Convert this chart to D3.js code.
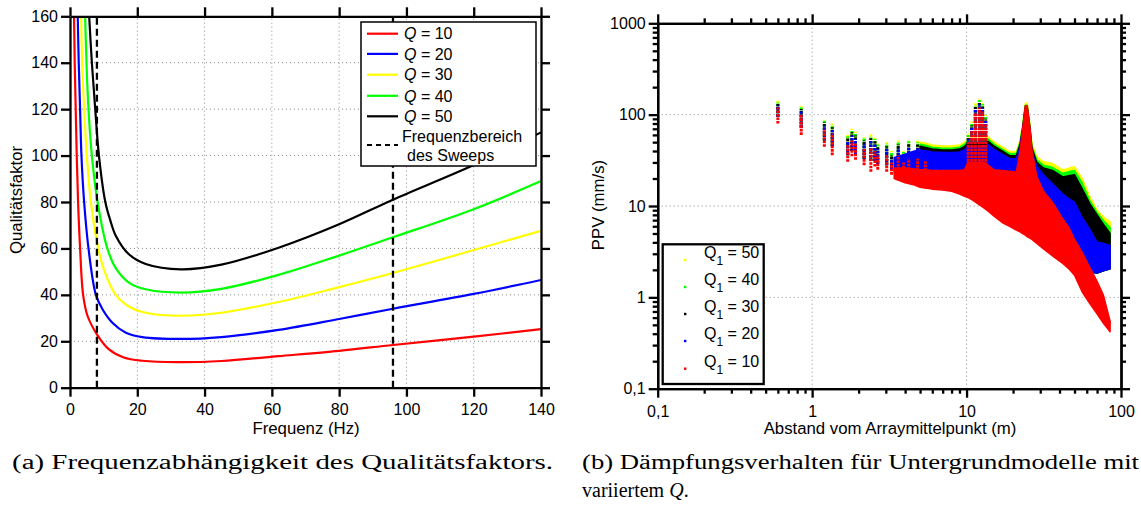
<!DOCTYPE html>
<html><head><meta charset="utf-8">
<script src="https://cdn.jsdelivr.net/npm/d3@7"></script>
<style>
body{margin:0;background:#fff;}
svg{display:block;font-family:"Liberation Sans",Arial,Helvetica,sans-serif;}
</style></head><body>
<svg id="fig" width="1141" height="505"></svg>
<script>
// ---------- Panel (a): quality factor vs. frequency ----------
const qLevels = [10, 20, 30, 40, 50];
const qColors = ["#ff0000", "#0000ff", "#ffff00", "#00ff00", "#000000"];
const freqTicks = [0, 20, 40, 60, 80, 100, 120, 140];
const qTicks = [0, 20, 40, 60, 80, 100, 120, 140, 160];
const sweepRange = [8, 96];

// [frequency (Hz), Q]
const curveQ10 = [[1.2,160],[1.4,140],[1.7,120],[2.0,100],[2.4,80],[3.0,60],[3.9,40],[5.2,31],[8,23],[11.6,16.5],[16,13],[21.5,11.6],[32,11],[45,11.5],[62,13.6],[80,15.9],[96,18.4],[120,22],[140,25.2]];
const curveQ20 = [[2.3,160],[2.6,140],[3.0,120],[3.4,100],[4.2,80],[5.5,60],[7.7,40],[9.7,33.7],[12.6,28],[16.6,23.7],[21.5,21.8],[33,21],[45,21.8],[62,24.9],[80,29.6],[96,34],[120,40.4],[140,46.4]];
const curveQ30 = [[3.3,160],[3.6,140],[4.2,120],[5.0,100],[6.2,80],[8.4,60],[10.1,50.8],[13.6,40],[17.5,35],[22.5,32.3],[33,31],[45,32.3],[62,36.9],[80,43.3],[96,49.4],[120,59.3],[140,67.6]];
const curveQ40 = [[4.5,160],[4.9,140],[5.5,120],[6.5,100],[8.2,80],[11.1,60],[13.6,51.5],[17.5,45.3],[22.5,42.4],[33,41],[45,42.6],[62,48.6],[80,56.9],[96,64.8],[120,76.9],[140,89]];
const curveQ50 = [[5.7,160],[6.5,140],[7.5,120],[8.6,100],[10.5,80],[12,72],[13.6,65.5],[17.5,57.5],[22.5,53.3],[33,51],[45,53],[62,60.3],[80,70.4],[96,81],[120,95.9],[140,110]];
const qCurves = [curveQ10, curveQ20, curveQ30, curveQ40, curveQ50];

// ---------- Panel (b): PPV vs. distance ----------
const q1Levels = [50, 40, 30, 20, 10];
const q1Colors = ["#ffff00", "#00ff00", "#000000", "#0000ff", "#ff0000"];
const distTickLabels = ["0,1", "1", "10", "100"];
const ppvTickLabels = ["0,1", "1", "10", "100", "1000"];

// receiver groups (m) with PPV ranges (mm/s) per model
const colDist  = [0.60,0.85,1.20,1.35,1.70,1.81,1.91,2.17,2.40,2.55,2.66,3.04,3.27,3.61,3.90,4.22,4.82,5.41,10.25,10.8,11.4,12.1,12.7,13.3];
const colHi50  = [142,125,89,80,60,70,65,57,61,56,49,50,40,52,41,53,52,47,63,84,133,151,138,99];
const colHi40  = [137,120,86,77,58,67,62,55,58,54,47,48,38,50,39,51,50,45,60,80,127,144,131,94];
const colHi30  = [131,115,82,73,55,64,59,52,55,51,45,45,36,47,37,48,47,43,57,76,121,137,125,90];
const colHi20  = [126,108,76,68,51,59,54,48,51,47,42,42,33,43,34,44,43,40,54,72,114,130,118,85];
const colHi10  = [120,100,70,62,47,52,48,42,44,40,36,36,30,36,30,33,33,31,50,66,105,120,108,78];
const colLoAll = [95,72,52,45,36,40,37,33,31,31,29,28,25,25,24,24,24,23,40,40,40,40,40,40];
const colLo10  = [80,60,44.5,36,30.5,35,32,28,23.7,27,25,23.7,22,19,20,17.5,17,15.6,28,28,28,28,28,28];

// dense part of the point cloud: envelopes (mm/s) over distance (m)
const denseDist = [3.4,4.0,4.6,5.0,5.5,6.0,7.0,8.0,9.0,9.7,10.2,11.0,12.0,13.0,13.8,15.0,17.0,19.0,21.0,22.2,23.1,24.0,24.7,25.7,26.5,28.5,31.5,36.0,42.0,46.0,50.0,56.0,63.0,70.0,77.0,85.0];
const denseHi50 = [null,null,null,50,48.5,46.5,45.5,45.3,46.5,50,55,55,55,55,57,50.5,44.5,39.4,39.4,52.7,80,133,133,80,48.5,34.6,30.5,29.2,24.8,25.9,26.9,20.1,12.6,9.0,7.6,6.7];
const denseHi40 = [null,null,null,47.5,46,44,43,43,44,47.5,52,52,52,52,54,48,42,37.5,37.5,50,76,127,127,76,45.5,32,28,26.5,22.8,23.8,24.5,18,11.4,8.5,6.9,5.8];
const denseHi30 = [null,null,null,45,43.5,42,41,41,42,45,49,49,49,49,51,45.5,40,35.5,35.5,47,72,121,121,72,43,30,26,24.5,20.8,21.5,22,15.5,10.5,8.0,6.3,5.0];
const denseHi20 = [34,37,40,41,40,39,38.5,38.5,39,41,45,45,45,45,47,42,37,33,33,44,68,114,114,68,39,27,22,17.5,13.5,12,11,7.5,5.5,4.0,3.9,3.7];
const denseLoAll = [24,23,22,21,21,20.5,20,19.5,19,18.5,18,17.5,17,16,15,14,13,12,11.5,11,11,11,11,11,11,10,9,7.5,5.5,4.6,3.8,2.6,1.9,1.85,1.95,2.05];
const denseHi10 = [26,26,25.5,25,25,24.5,24.5,24.5,24.5,25,30,30,30,30,28,25,24.5,24,23.5,40,70,125,125,72,41,21,14.5,11,7.2,5.8,4.3,3.1,2.1,1.5,1.05,0.55];
const denseLo10 = [20,18,17,16,15.6,15.3,15,14.5,13.5,12.8,12.4,11.5,10.4,9.5,8.8,7.8,6.6,6.0,5.45,5.2,5.0,4.8,4.6,4.45,4.3,3.9,3.4,2.85,2.35,2.05,1.75,1.15,0.85,0.66,0.52,0.42];

const colHi = [colHi50, colHi40, colHi30, colHi20, colHi10];
const colLo = [colLoAll, colLoAll, colLoAll, colLoAll, colLo10];
const denseHi = [denseHi50, denseHi40, denseHi30, denseHi20, denseHi10];
const denseLo = [denseLoAll, denseLoAll, denseLoAll, denseLoAll, denseLo10];

const svg = d3.select("#fig");
svg.append("rect").attr("width", 1141).attr("height", 505).attr("fill", "#fff");
const FS = 16;
const TITLE_FS = 16.8;
const gridStyle = s => s.attr("stroke", "#8c8c8c").attr("stroke-width", 1).attr("stroke-dasharray", "1,3");

function styleAxis(g, labels) {
  g.select(".domain").attr("stroke", "#000").attr("stroke-width", 2.3);
  g.selectAll(".tick line").attr("stroke", "#000").attr("stroke-width", 2.3);
  g.selectAll(".tick text").attr("font-size", FS).attr("fill", "#000")
    .attr("font-family", "'Liberation Sans', Arial, sans-serif");
  if (!labels) g.selectAll(".tick text").remove();
}

// ===== Panel (a) =====
const xA = d3.scaleLinear().domain([0, 140]).range([70, 541]);
const yA = d3.scaleLinear().domain([0, 160]).range([387.7, 16.3]);
const gA = svg.append("g");

gA.append("g").selectAll("line").data(freqTicks.filter(t => t > 0 && t < 140)).join("line")
  .attr("x1", d => xA(d)).attr("x2", d => xA(d)).attr("y1", yA(0)).attr("y2", yA(160)).call(gridStyle);
gA.append("g").selectAll("line").data(qTicks.filter(t => t > 0 && t < 160)).join("line")
  .attr("y1", d => yA(d)).attr("y2", d => yA(d)).attr("x1", xA(0)).attr("x2", xA(140)).call(gridStyle);

svg.append("clipPath").attr("id", "clipA").append("rect")
  .attr("x", xA(0)).attr("y", yA(160)).attr("width", xA(140) - xA(0)).attr("height", yA(0) - yA(160));

const lineA = d3.line().x(d => xA(d[0])).y(d => yA(d[1])).curve(d3.curveCatmullRom.alpha(0.5));
const plotA = gA.append("g").attr("clip-path", "url(#clipA)");
plotA.selectAll("path.q").data(qCurves).join("path").attr("class", "q")
  .attr("d", lineA).attr("fill", "none").attr("stroke", (d, i) => qColors[i]).attr("stroke-width", 2.2);
plotA.selectAll("line.sweep").data(sweepRange).join("line").attr("class", "sweep")
  .attr("x1", d => xA(d)).attr("x2", d => xA(d)).attr("y1", yA(0)).attr("y2", yA(160))
  .attr("stroke", "#000").attr("stroke-width", 2.3).attr("stroke-dasharray", "7,4");

gA.append("g").attr("transform", `translate(0,${yA(0)})`)
  .call(d3.axisBottom(xA).tickValues(freqTicks).tickSize(9).tickSizeOuter(0).tickPadding(7))
  .call(g => styleAxis(g, true));
gA.append("g").attr("transform", `translate(0,${yA(160)})`)
  .call(d3.axisTop(xA).tickValues(freqTicks).tickSize(9).tickSizeOuter(0))
  .call(g => styleAxis(g, false));
gA.append("g").attr("transform", `translate(${xA(0)},0)`)
  .call(d3.axisLeft(yA).tickValues(qTicks).tickSize(9).tickSizeOuter(0).tickPadding(3))
  .call(g => styleAxis(g, true));
gA.append("g").attr("transform", `translate(${xA(140)},0)`)
  .call(d3.axisRight(yA).tickValues(qTicks).tickSize(9).tickSizeOuter(0))
  .call(g => styleAxis(g, false));

gA.append("text").attr("x", 306).attr("y", 434).attr("text-anchor", "middle")
  .attr("font-size", TITLE_FS).text("Frequenz (Hz)");
gA.append("text").attr("transform", "translate(21.5,200) rotate(-90)").attr("text-anchor", "middle")
  .attr("font-size", TITLE_FS).text("Qualitätsfaktor");

// legend (a)
const legA = gA.append("g");
legA.append("rect").attr("x", 361).attr("y", 22).attr("width", 175).attr("height", 144)
  .attr("fill", "#fff").attr("stroke", "#000").attr("stroke-width", 1.5);
const legRowsA = [33.7, 53.9, 74.7, 95.8, 116.3];
qLevels.forEach((q, i) => {
  legA.append("line").attr("x1", 367).attr("x2", 398).attr("y1", legRowsA[i]).attr("y2", legRowsA[i])
    .attr("stroke", qColors[i]).attr("stroke-width", 2.2);
  const t = legA.append("text").attr("x", 404).attr("y", legRowsA[i]).attr("dy", "0.36em").attr("font-size", FS);
  t.append("tspan").attr("font-style", "italic").text("Q");
  t.append("tspan").text(" = " + q);
});
legA.append("line").attr("x1", 367).attr("x2", 398).attr("y1", 145).attr("y2", 145)
  .attr("stroke", "#000").attr("stroke-width", 2.2).attr("stroke-dasharray", "5,4");
legA.append("text").attr("x", 402).attr("y", 136.7).attr("dy", "0.36em").attr("font-size", FS).text("Frequenzbereich");
legA.append("text").attr("x", 407).attr("y", 155).attr("dy", "0.36em").attr("font-size", FS).text("des Sweeps");

// ===== Panel (b) =====
const xB = d3.scaleLog().domain([0.1, 100]).range([657.7, 1121]);
const yB = d3.scaleLog().domain([0.1, 1000]).range([388.7, 23.3]);
const gB = svg.append("g");
const xMajor = [0.1, 1, 10, 100];
const yMajor = [0.1, 1, 10, 100, 1000];
const minorOf = majors => majors.slice(0, -1).flatMap(m => d3.range(2, 10).map(k => +(m * k).toPrecision(3)));
const xMinor = minorOf(xMajor), yMinor = minorOf(yMajor);

gB.append("g").selectAll("line").data([1, 10]).join("line")
  .attr("x1", d => xB(d)).attr("x2", d => xB(d)).attr("y1", yB(0.1)).attr("y2", yB(1000)).call(gridStyle);
gB.append("g").selectAll("line").data([1, 10, 100]).join("line")
  .attr("y1", d => yB(d)).attr("y2", d => yB(d)).attr("x1", xB(0.1)).attr("x2", xB(100)).call(gridStyle);

svg.append("clipPath").attr("id", "clipB").append("rect")
  .attr("x", xB(0.1)).attr("y", yB(1000)).attr("width", xB(100) - xB(0.1)).attr("height", yB(0.1) - yB(1000));
const plotB = gB.append("g").attr("clip-path", "url(#clipB)");

const areaB = (hi, lo) => d3.area()
  .defined((d, i) => hi[i] != null)
  .x(d => xB(d)).y0((d, i) => yB(lo[i])).y1((d, i) => yB(hi[i]));

q1Levels.forEach((q, s) => {
  const g = plotB.append("g");
  g.append("path").datum(denseDist).attr("d", areaB(denseHi[s], denseLo[s])(denseDist))
    .attr("fill", q1Colors[s]).attr("stroke", q1Colors[s]).attr("stroke-width", 1.5).attr("stroke-linejoin", "round");
  g.selectAll("line").data(colDist).join("line")
    .attr("x1", d => xB(d)).attr("x2", d => xB(d))
    .attr("y1", (d, i) => yB(colLo[s][i])).attr("y2", (d, i) => yB(colHi[s][i]))
    .attr("stroke", q1Colors[s]).attr("stroke-width", 3).attr("stroke-dasharray", "2.6,0.9");
});

gB.append("g").attr("transform", `translate(0,${yB(0.1)})`)
  .call(d3.axisBottom(xB).tickValues(xMinor).tickSize(5).tickSizeOuter(0)).call(g => styleAxis(g, false));
gB.append("g").attr("transform", `translate(0,${yB(0.1)})`)
  .call(d3.axisBottom(xB).tickValues(xMajor).tickSize(9).tickSizeOuter(0).tickPadding(8)
    .tickFormat((d, i) => distTickLabels[i])).call(g => styleAxis(g, true));
gB.append("g").attr("transform", `translate(0,${yB(1000)})`)
  .call(d3.axisTop(xB).tickValues(xMinor).tickSize(5).tickSizeOuter(0)).call(g => styleAxis(g, false));
gB.append("g").attr("transform", `translate(0,${yB(1000)})`)
  .call(d3.axisTop(xB).tickValues(xMajor).tickSize(9).tickSizeOuter(0)).call(g => styleAxis(g, false));
gB.append("g").attr("transform", `translate(${xB(0.1)},0)`)
  .call(d3.axisLeft(yB).tickValues(yMinor).tickSize(5).tickSizeOuter(0)).call(g => styleAxis(g, false));
gB.append("g").attr("transform", `translate(${xB(0.1)},0)`)
  .call(d3.axisLeft(yB).tickValues(yMajor).tickSize(9).tickSizeOuter(0).tickPadding(3)
    .tickFormat((d, i) => ppvTickLabels[i])).call(g => styleAxis(g, true));
gB.append("g").attr("transform", `translate(${xB(100)},0)`)
  .call(d3.axisRight(yB).tickValues(yMinor).tickSize(5).tickSizeOuter(0)).call(g => styleAxis(g, false));
gB.append("g").attr("transform", `translate(${xB(100)},0)`)
  .call(d3.axisRight(yB).tickValues(yMajor).tickSize(9).tickSizeOuter(0)).call(g => styleAxis(g, false));

gB.append("text").attr("x", 890).attr("y", 434).attr("text-anchor", "middle")
  .attr("font-size", TITLE_FS).text("Abstand vom Arraymittelpunkt (m)");
gB.append("text").attr("transform", "translate(604,205) rotate(-90)").attr("text-anchor", "middle")
  .attr("font-size", TITLE_FS).text("PPV (mm/s)");

// legend (b)
const legB = gB.append("g");
legB.append("rect").attr("x", 662.7).attr("y", 244.3).attr("width", 101).attr("height", 139.7)
  .attr("fill", "#fff").attr("stroke", "#000").attr("stroke-width", 2.3);
const legRowsB = [260, 287, 314, 341, 368.7];
q1Levels.forEach((q, i) => {
  legB.append("rect").attr("x", 684).attr("y", legRowsB[i] - 1.2).attr("width", 2.4).attr("height", 2.4)
    .attr("fill", q1Colors[i]);
  const t = legB.append("text").attr("x", 704).attr("y", legRowsB[i] - 2).attr("font-size", FS);
  t.append("tspan").text("Q");
  t.append("tspan").attr("font-size", 12).attr("dy", 7).text("1");
  t.append("tspan").attr("dy", -7).text(" = " + q);
});

// ===== captions =====
const capFont = "'Liberation Serif','Times New Roman',serif";
svg.append("text").attr("x", 12).attr("y", 469).attr("font-family", capFont).attr("font-size", 20)
  .attr("textLength", 541).attr("lengthAdjust", "spacingAndGlyphs")
  .text("(a) Frequenzabhängigkeit des Qualitätsfaktors.");
svg.append("text").attr("x", 582).attr("y", 469).attr("font-family", capFont).attr("font-size", 20)
  .attr("textLength", 557).attr("lengthAdjust", "spacingAndGlyphs")
  .text("(b) Dämpfungsverhalten für Untergrundmodelle mit");
const cap2 = svg.append("text").attr("x", 582).attr("y", 497).attr("font-family", capFont).attr("font-size", 20);
cap2.append("tspan").text("variiertem ");
cap2.append("tspan").attr("font-style", "italic").text("Q");
cap2.append("tspan").text(".");
</script>
</body></html>
